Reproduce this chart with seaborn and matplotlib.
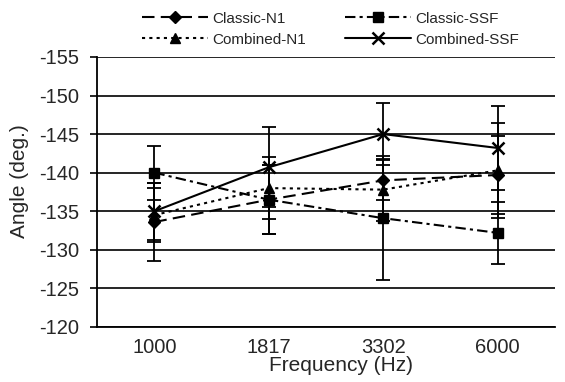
import numpy as np
import pandas as pd
import matplotlib
matplotlib.use("Agg")
import matplotlib.pyplot as plt
import seaborn as sns

freqs = ["1000", "1817", "3302", "6000"]
series = ["Classic-N1", "Classic-SSF", "Combined-N1", "Combined-SSF"]

classic_n1 = [-133.6, -136.5, -139.0, -139.7]
classic_ssf = [-140.0, -136.5, -134.1, -132.2]
combined_n1 = [-134.5, -138.0, -137.8, -140.3]
combined_ssf = [-135.0, -140.7, -145.0, -143.2]

classic_n1_err = [5.0, 4.5, 2.6, 5.0]
classic_ssf_err = [3.5, 4.5, 8.0, 4.0]
combined_n1_err = [3.5, 4.0, 4.0, 6.2]
combined_ssf_err = [3.7, 5.2, 4.0, 5.5]


def main():
  sns.set_style("white")
  plt.rcParams["font.family"] = ["Liberation Sans", "DejaVu Sans"]
  plt.rcParams["axes.unicode_minus"] = False

  fig, ax = plt.subplots(figsize=(5.65, 3.82), dpi=100)
  fig.subplots_adjust(left=0.172, right=0.982, top=0.851, bottom=0.144)

  pos = np.arange(len(freqs))
  values = [classic_n1, classic_ssf, combined_n1, combined_ssf]
  errors = [classic_n1_err, classic_ssf_err, combined_n1_err, combined_ssf_err]
  markers = ["D", "s", "^", "x"]
  dashes = [(6, 3), (5, 2, 1.5, 2), (1.5, 2), ""]
  msizes = [6.5, 6.5, 7, 8]

  handles = []
  for name, vals, errs, m, d, ms in zip(series, values, errors, markers, dashes, msizes):
    df = pd.DataFrame({"x": pos, "y": vals})
    ax.errorbar(pos, vals, yerr=errs, fmt="none", ecolor="black",
                elinewidth=1.3, capsize=5, capthick=1.3, zorder=2)
    sns.lineplot(data=df, x="x", y="y", ax=ax, color="black", linewidth=1.5,
                 marker=m, markersize=ms, markeredgecolor="black",
                 markerfacecolor="black", markeredgewidth=1.8 if m == "x" else 1,
                 zorder=3)
    line = ax.lines[-1]
    if d:
      line.set_dashes(d)
    handles.append(line)

  ax.set_xlim(-0.5, len(freqs) - 0.5)
  ax.set_ylim(-120, -155)
  ax.set_yticks(np.arange(-155, -119, 5))
  ax.yaxis.grid(True, color="black", linewidth=1.2)
  ax.set_axisbelow(True)

  ax.set_xticks(np.arange(-0.5, len(freqs), 1.0))
  ax.set_xticklabels([])
  ax.set_xticks(pos, minor=True)
  ax.set_xticklabels(freqs, minor=True)
  ax.tick_params(axis="x", which="major", direction="in", length=5, width=1.2, color="black")
  ax.tick_params(axis="x", which="minor", length=0, labelsize=14.5, pad=8)
  ax.tick_params(axis="y", direction="out", length=5, width=1.2, color="black",
                 left=True, labelsize=14.5, pad=8)

  for s in ["top", "right"]:
    ax.spines[s].set_visible(False)
  for s in ["left", "bottom"]:
    ax.spines[s].set_color("black")
    ax.spines[s].set_linewidth(1.3)

  ax.set_xlabel("Frequency (Hz)", fontsize=15)
  ax.set_ylabel("Angle (deg.)", fontsize=15)
  ax.xaxis.set_label_coords(0.533, -0.108)
  ax.yaxis.set_label_coords(-0.15, 0.54)

  # legend fills column-wise, so order to get rows Classic / Combined
  order = [0, 2, 1, 3]
  fig.legend([handles[i] for i in order], [series[i] for i in order],
             loc="upper center", bbox_to_anchor=(0.585, 1.005),
             ncol=2, frameon=False, fontsize=11, handlelength=4.3,
             columnspacing=2.6, labelspacing=0.45, handletextpad=0.25)

  plt.savefig("out.png", dpi=100)


if __name__ == "__main__":
  main()
